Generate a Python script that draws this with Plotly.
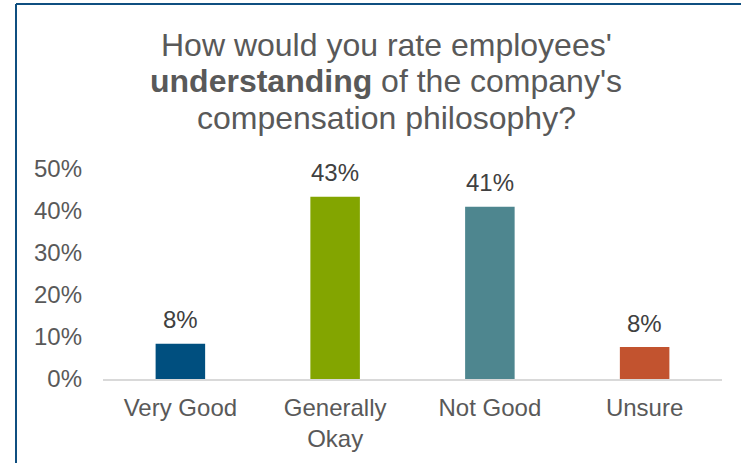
import plotly.graph_objects as go

# Survey responses
categories = ["Very Good", "Generally<br>Okay", "Not Good", "Unsure"]
shares = [0.084, 0.434, 0.41, 0.076]
bar_colors = ["#004f7f", "#83a500", "#4e868f", "#c2532f"]
title_lines = [
    "How would you rate employees'",
    "<b>understanding</b> of the company's",
    "compensation philosophy?",
]

W, H = 741, 463
M_L, M_R, M_T, M_B = 103, 19, 169, 84
PLOT_W = W - M_L - M_R
PLOT_H = H - M_T - M_B


def px_x(px):
    return (px - M_L) / PLOT_W


def px_y(py):
    return (H - M_B - py) / PLOT_H


FONT = "Liberation Sans, Arial, sans-serif"
GREY = "#595959"
LABEL_SIZE = 24

fig = go.Figure(
    go.Bar(
        x=categories,
        y=shares,
        marker=dict(color=bar_colors, line=dict(width=0)),
        width=0.32,
        hoverinfo="skip",
    )
)

# value labels above the bars
for cat, val in zip(categories, shares):
    fig.add_annotation(
        x=cat, y=val, xref="x", yref="y",
        text=f"{val:.0%}", showarrow=False,
        yanchor="middle", yshift=24,
        font=dict(family=FONT, size=LABEL_SIZE, color="#404040"),
    )

# three-line title with tight line spacing
for i, line in enumerate(title_lines):
    fig.add_annotation(
        x=px_x(386), y=px_y(45 + i * 36.5), xref="paper", yref="paper",
        text=line, showarrow=False, xanchor="center", yanchor="middle",
        font=dict(family=FONT, size=32, color=GREY),
    )

# frame lines along the top and left edges
frame = dict(color="#0f4f80", width=2)
fig.add_shape(type="line", xref="paper", yref="paper",
              x0=px_x(16), x1=px_x(760), y0=px_y(4), y1=px_y(4), line=frame)
fig.add_shape(type="line", xref="paper", yref="paper",
              x0=px_x(16), x1=px_x(16), y0=px_y(4), y1=px_y(480), line=frame)

fig.update_layout(
    width=W, height=H,
    margin=dict(l=M_L, r=M_R, t=M_T, b=M_B),
    paper_bgcolor="white", plot_bgcolor="white",
    showlegend=False,
    font=dict(family=FONT, size=LABEL_SIZE, color=GREY),
    bargap=0.68,
)
fig.update_xaxes(
    showgrid=False, zeroline=False,
    showline=True, linecolor="#d9d9d9", linewidth=2,
    ticks="", ticklabelstandoff=6,
    tickfont=dict(family=FONT, size=LABEL_SIZE, color=GREY),
)
fig.update_yaxes(
    range=[0, 0.5], dtick=0.1, tickformat=".0%",
    showgrid=False, zeroline=False, showline=False,
    ticks="", ticklabelstandoff=20,
    tickfont=dict(family=FONT, size=LABEL_SIZE, color=GREY),
)

fig.write_html("out.html")
